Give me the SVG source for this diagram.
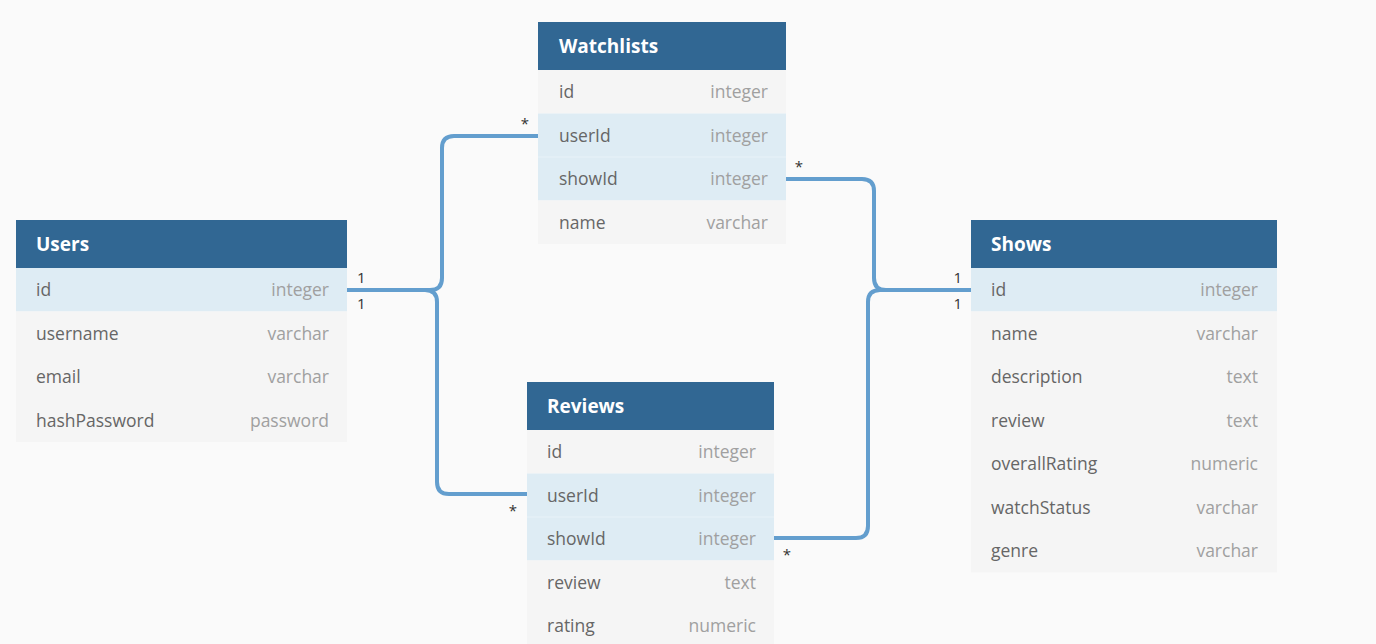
<svg xmlns="http://www.w3.org/2000/svg" width="1376" height="644" viewBox="0 0 1376 644">
<style>
.bg{fill:#fafafa}
.hd{fill:#316793}
.r{fill:#f5f5f5}
.rk{fill:#deecf4}
.ht{font-family:"Open Sans",sans-serif;font-weight:bold;font-size:19px;fill:#ffffff}
.n{font-family:"Open Sans",sans-serif;font-size:17.5px;fill:#666666}
.t{font-family:"Open Sans",sans-serif;font-size:17.5px;fill:#a0a0a0;text-anchor:end}
.c{fill:none;stroke:#639ece;stroke-width:4;stroke-linejoin:round}
.lb{font-family:"Open Sans",sans-serif;font-size:15px;fill:#333333}
</style>
<rect class="bg" x="0" y="0" width="1376" height="644"/>
<g id="connectors">
<path class="c" d="M347 290 H430 Q442 290 442 278 V148 Q442 136 454 136 H538"/>
<path class="c" d="M347 290 H425 Q437 290 437 302 V482 Q437 494 449 494 H527"/>
<path class="c" d="M786 179 H862 Q874 179 874 191 V278 Q874 290 886 290 H971"/>
<path class="c" d="M774 538 H856 Q868 538 868 526 V302 Q868 290 880 290 H971"/>
<text class="lb" x="357" y="283">1</text>
<text class="lb" x="357" y="309">1</text>
<text class="lb" x="525" y="129" text-anchor="middle">*</text>
<text class="lb" x="799" y="172" text-anchor="middle">*</text>
<text class="lb" x="962" y="283" text-anchor="end">1</text>
<text class="lb" x="962" y="309" text-anchor="end">1</text>
<text class="lb" x="513" y="516" text-anchor="middle">*</text>
<text class="lb" x="787" y="560" text-anchor="middle">*</text>
</g>
<g id="users">
<rect class="hd" x="16" y="220" width="331" height="48"/>
<text class="ht" x="36" y="251">Users</text>
<rect class="rk" x="16" y="268" width="331" height="43.5"/>
<rect class="r" x="16" y="311.5" width="331" height="130.5"/>
<text class="n" x="36" y="296">id</text><text class="t" x="329" y="296">integer</text>
<text class="n" x="36" y="339.5">username</text><text class="t" x="329" y="339.5">varchar</text>
<text class="n" x="36" y="383">email</text><text class="t" x="329" y="383">varchar</text>
<text class="n" x="36" y="426.5">hashPassword</text><text class="t" x="329" y="426.5">password</text>
</g>
<g id="watchlists">
<rect class="hd" x="538" y="22" width="248" height="48"/>
<text class="ht" x="559" y="53">Watchlists</text>
<rect class="r" x="538" y="70" width="248" height="43.5"/>
<rect class="rk" x="538" y="113.5" width="248" height="87"/>
<rect class="r" x="538" y="200.5" width="248" height="43.5"/>
<line x1="538" y1="157" x2="786" y2="157" stroke="#e8f2f8" stroke-width="1"/>
<text class="n" x="559" y="98">id</text><text class="t" x="768" y="98">integer</text>
<text class="n" x="559" y="141.5">userId</text><text class="t" x="768" y="141.5">integer</text>
<text class="n" x="559" y="185">showId</text><text class="t" x="768" y="185">integer</text>
<text class="n" x="559" y="228.5">name</text><text class="t" x="768" y="228.5">varchar</text>
</g>
<g id="reviews">
<rect class="hd" x="527" y="382" width="247" height="48"/>
<text class="ht" x="547" y="413">Reviews</text>
<rect class="r" x="527" y="430" width="247" height="43.5"/>
<rect class="rk" x="527" y="473.5" width="247" height="87"/>
<rect class="r" x="527" y="560.5" width="247" height="90"/>
<line x1="527" y1="517" x2="774" y2="517" stroke="#e8f2f8" stroke-width="1"/>
<text class="n" x="547" y="458">id</text><text class="t" x="756" y="458">integer</text>
<text class="n" x="547" y="501.5">userId</text><text class="t" x="756" y="501.5">integer</text>
<text class="n" x="547" y="545">showId</text><text class="t" x="756" y="545">integer</text>
<text class="n" x="547" y="588.5">review</text><text class="t" x="756" y="588.5">text</text>
<text class="n" x="547" y="632">rating</text><text class="t" x="756" y="632">numeric</text>
</g>
<g id="shows">
<rect class="hd" x="971" y="220" width="306" height="48"/>
<text class="ht" x="991" y="251">Shows</text>
<rect class="rk" x="971" y="268" width="306" height="43.5"/>
<rect class="r" x="971" y="311.5" width="306" height="261"/>
<text class="n" x="991" y="296">id</text><text class="t" x="1258" y="296">integer</text>
<text class="n" x="991" y="339.5">name</text><text class="t" x="1258" y="339.5">varchar</text>
<text class="n" x="991" y="383">description</text><text class="t" x="1258" y="383">text</text>
<text class="n" x="991" y="426.5">review</text><text class="t" x="1258" y="426.5">text</text>
<text class="n" x="991" y="470">overallRating</text><text class="t" x="1258" y="470">numeric</text>
<text class="n" x="991" y="513.5">watchStatus</text><text class="t" x="1258" y="513.5">varchar</text>
<text class="n" x="991" y="557">genre</text><text class="t" x="1258" y="557">varchar</text>
</g>
</svg>
